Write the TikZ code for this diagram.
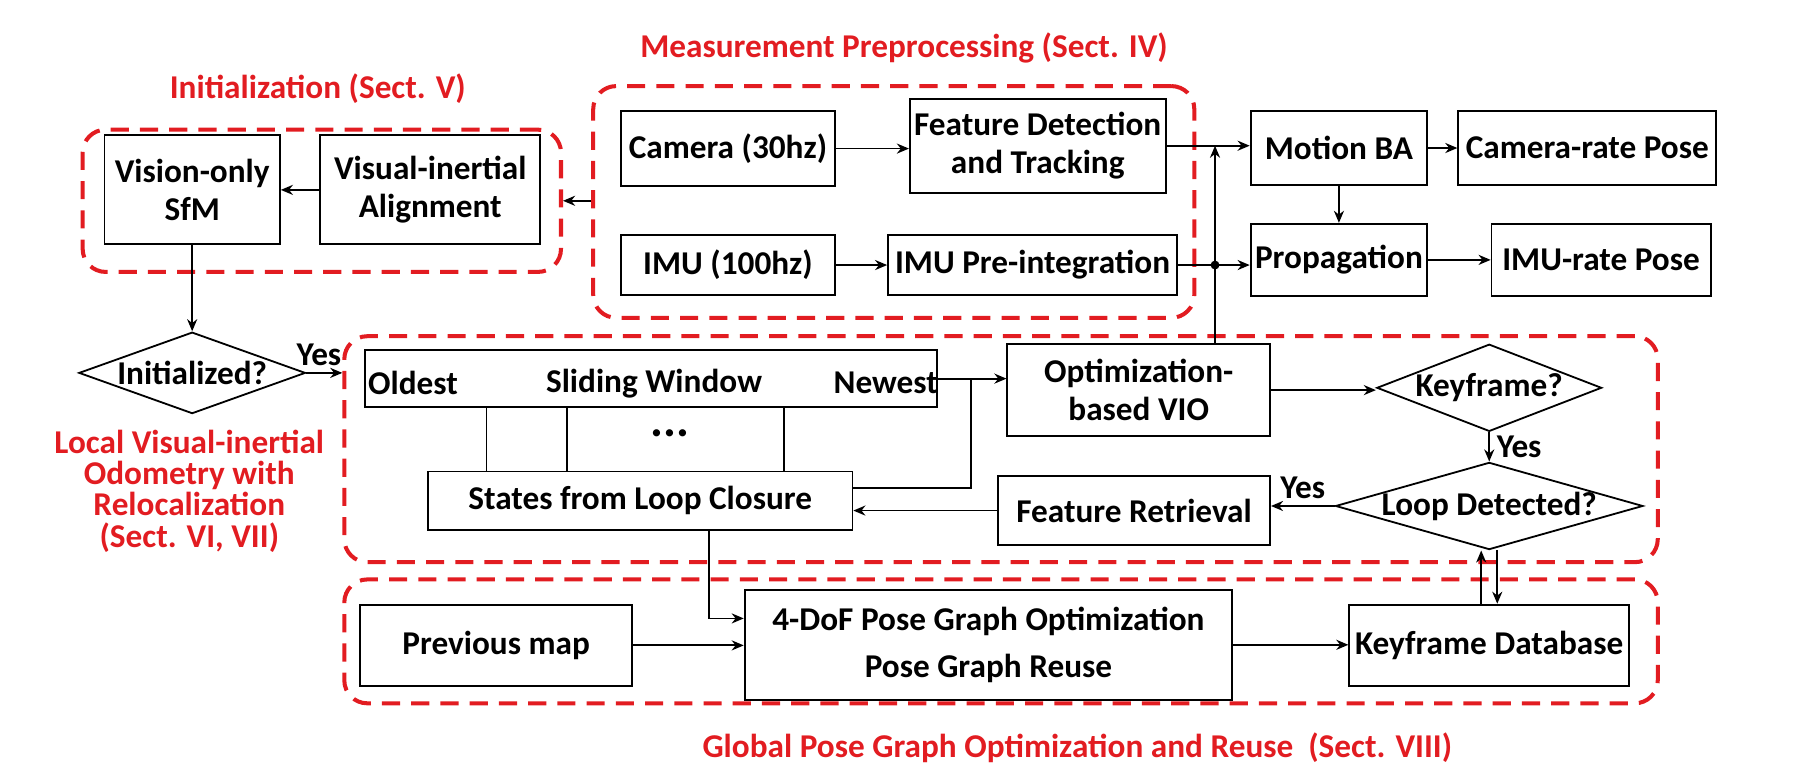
\documentclass[tikz,border=0pt]{standalone}
\usepackage{fontspec}
\setmainfont{Carlito}
\usetikzlibrary{arrows.meta,shapes.geometric}
\definecolor{secred}{RGB}{226,28,33}

\begin{document}
\begin{tikzpicture}[x=0.02cm, y=-0.02cm, line width=0.9pt,
  font=\bfseries\fontsize{16.5}{19}\selectfont,
  >={Stealth[length=6pt,width=5pt]},
  box/.style={draw, inner sep=1pt, align=center},
  ask/.style={draw, diamond, inner sep=0pt},
  region/.style={draw=secred, line width=2pt, dash pattern=on 9pt off 5.5pt, rounded corners=0.4cm},
  title/.style={text=secred}]
\useasboundingbox (0,0) rectangle (1568,681);

\node[title] (tmeas) at (788,42) {Measurement Preprocessing (Sect. IV)};
\node[title] (tinit) at (277,77) {Initialization (Sect. V)};
\node[title, align=center, font=\bfseries\fontsize{16.5}{15.6}\selectfont] (tlocal) at (165,428) {Local Visual-inertial\\Odometry with\\Relocalization\\(Sect. VI, VII)};
\node[title] (tglobal) at (939,652) {Global Pose Graph Optimization and Reuse~ (Sect. VIII)};

\node[region, minimum width=8.34cm, minimum height=2.48cm] (initreg) at (280.5,175) {};
\node[region, minimum width=10.48cm, minimum height=4.04cm] (measreg) at (779,176) {};
\node[region, minimum width=22.9cm, minimum height=3.94cm] (localreg) at (872.5,391.5) {};
\node[region, minimum width=22.9cm, minimum height=2.16cm] (globalreg) at (872.5,559) {};

\node[box, minimum width=3.06cm, minimum height=1.9cm] (sfm) at (167.5,165.5) {Vision-only\\SfM};
\node[box, minimum width=3.84cm, minimum height=1.9cm] (align) at (375,165.5) {Visual-inertial\\Alignment};
\node[box, minimum width=3.74cm, minimum height=1.3cm] (cam) at (634.5,129.5) {Camera (30hz)};
\node[box, minimum width=4.46cm, minimum height=1.64cm] (feat) at (904.5,127) {Feature Detection\\and Tracking};
\node[box, minimum width=3.74cm, minimum height=1.04cm] (imu) at (634.5,231) {IMU (100hz)};
\node[box, minimum width=5.04cm, minimum height=1.04cm] (preint) at (900,231) {IMU Pre-integration};
\node[box, minimum width=3.08cm, minimum height=1.28cm] (mba) at (1167,129) {Motion BA};
\node[box, minimum width=4.5cm, minimum height=1.28cm] (crpose) at (1383.5,129) {Camera-rate Pose};
\node[box, minimum width=3.08cm, minimum height=1.26cm] (prop) at (1167,226.5) {Propagation};
\node[box, minimum width=3.82cm, minimum height=1.26cm] (irpose) at (1395.5,226.5) {IMU-rate Pose};

\node[ask, minimum width=3.95cm, minimum height=1.42cm] (initq) at (167.5,325) {\makebox[0pt]{Initialized?}};
\node[box, minimum width=9.98cm, minimum height=1cm] (sw) at (567.5,330) {};
\node (oldest) at (360,334) {Oldest};
\node (window) at (570,334) {Sliding Window};
\node (newest) at (772,334) {Newest};
\node[font=\bfseries\fontsize{24}{24}\selectfont] (dots) at (584,378) {...};
\node[box, minimum width=7.4cm, minimum height=1.02cm] (states) at (558,436.5) {States from Loop Closure};
\node[box, minimum width=4.58cm, minimum height=1.6cm] (vio) at (992.5,340) {Optimization-\\based VIO};
\node[box, minimum width=4.74cm, minimum height=1.2cm] (fr) at (988.5,445) {Feature Retrieval};
\node[ask, minimum width=3.92cm, minimum height=1.52cm] (kfq) at (1298,338) {\makebox[0pt]{Keyframe?}};
\node[ask, minimum width=5.36cm, minimum height=1.52cm] (loopq) at (1298,441) {\makebox[0pt]{Loop Detected?}};

\node[box, minimum width=4.74cm, minimum height=1.42cm] (prev) at (432.5,562.5) {Previous map};
\node[box, minimum width=8.5cm, minimum height=1.92cm] (pgo) at (861.5,562) {4-DoF Pose Graph Optimization\\[4pt]Pose Graph Reuse};
\node[box, minimum width=4.88cm, minimum height=1.42cm] (kfdb) at (1298,562.5) {Keyframe Database};

\draw[->] (align.west) -- (sfm.east);
\draw[->] (measreg.west |- initreg.east) -- (initreg.east);
\draw[->] (sfm.south) -- (initq.north);
\draw[->] (initq.east) -- node[above, pos=0.35] (yes1) {Yes} (initq.east -| localreg.west);

\draw[->] (cam.east) -- (cam.east -| feat.west);
\draw[->] (imu.east) -- (imu.east -| preint.west);
\draw[->] (feat.east) -- (feat.east -| mba.west);
\draw[->] (preint.east) -- (preint.east -| prop.west);
\coordinate (vioup) at (1059,231);
\fill (vioup) circle (2.2pt);
\draw[->] (vio.north -| vioup) -- (vioup |- feat.east);
\draw[->] (mba.south) -- (prop.north);
\draw[->] (mba.east) -- (crpose.west);
\draw[->] (prop.east) -- (prop.east -| irpose.west);

\foreach \x in {424,494,683}
  \draw (sw.south -| \x,0) -- (states.north -| \x,0);
\draw[->] (sw.east) -- (sw.east -| vio.west);
\coordinate (swjoin) at (846,330);
\draw (swjoin) |- ([yshift=0.23cm]states.east);
\draw[->] (fr.west) -- (fr.west -| states.east);
\draw[->] (vio.east) -- (vio.east -| kfq.west);
\draw[->] (kfq.south) -- node[right] (yes2) {Yes} (loopq.north);
\draw[->] (loopq.west) -- node[above] (yes3) {Yes} (loopq.west -| fr.east);

\draw[->] ([xshift=1.2cm]states.south) |- ([yshift=0.46cm]pgo.west);
\draw[->] (prev.east) -- (prev.east -| pgo.west);
\draw[->] (pgo.east) -- (pgo.east -| kfdb.west);
\draw[->] ([xshift=-0.14cm]kfdb.north) -- ([xshift=-0.14cm]loopq.south);
\draw[->] ([xshift=0.14cm]loopq.south) -- ([xshift=0.14cm]kfdb.north);

\end{tikzpicture}
\end{document}
